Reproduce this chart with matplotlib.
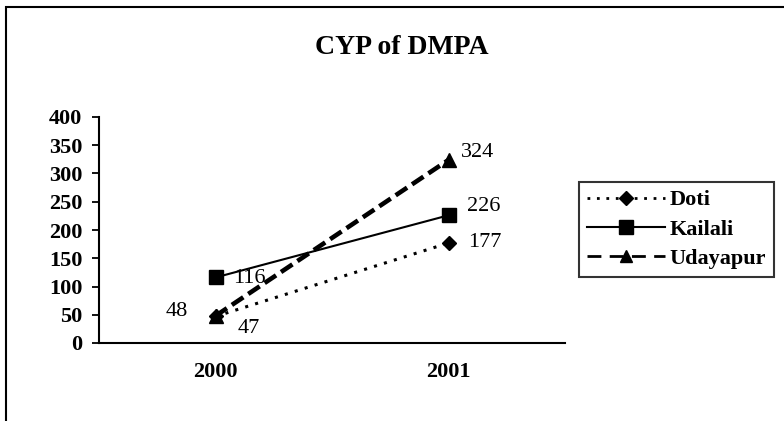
import matplotlib
matplotlib.use('Agg')
import matplotlib.pyplot as plt
from matplotlib.patches import Rectangle

years = ['2000', '2001']
doti = [47, 177]
kailali = [116, 226]
udayapur = [48, 324]

plt.rcParams['font.family'] = ['Liberation Serif', 'DejaVu Serif']

W, H = 784, 421
fig = plt.figure(figsize=(W / 100, H / 100), dpi=100)
ax = fig.add_axes([99 / W, (H - 343) / H, 466 / W, 226 / H])

x = [0, 1]
ax.plot(x, doti, linestyle=(0, (1, 2.4)), lw=2.2, color='k', marker='D', ms=7, label='Doti')
ax.plot(x, kailali, linestyle='-', lw=1.5, color='k', marker='s', ms=10, label='Kailali')
ax.plot(x, udayapur, linestyle=(0, (3, 1.3)), lw=3.3, color='k', marker='^', ms=9.5, label='Udayapur')

ax.set_xlim(-0.5, 1.5)
ax.set_ylim(0, 400)
ax.set_yticks(range(0, 401, 50))
ax.set_xticks(x)
ax.set_xticklabels(years)
ax.tick_params(axis='y', direction='out', length=5, width=1.3, labelsize=16, pad=7)
ax.tick_params(axis='x', length=0, labelsize=16, pad=14)
for lab in ax.get_xticklabels() + ax.get_yticklabels():
    lab.set_fontweight('bold')
for s in ['top', 'right']:
    ax.spines[s].set_visible(False)
for s in ['left', 'bottom']:
    ax.spines[s].set_linewidth(1.5)

# data labels
lfs = 16
def lab(v, xi, dx, dy, ha='left'):
    ax.annotate(str(v), (x[xi], v), xytext=(dx, dy), textcoords='offset points',
                fontsize=lfs, va='center', ha=ha)

lab(doti[0], 0, 16, -9)
lab(udayapur[0], 0, -20, 3, ha='right')
lab(kailali[0], 0, 13, -1)
lab(doti[1], 1, 14, 0)
lab(kailali[1], 1, 13, 6)
lab(udayapur[1], 1, 9, 5.5)

fig.text(402 / W, 1 - 48 / H, 'CYP of DMPA', ha='center', va='center',
         fontsize=20, fontweight='bold')

leg = fig.legend(loc='upper left', bbox_to_anchor=(579 / W, 1 - 182 / H),
                 bbox_transform=fig.transFigure, prop={'weight': 'bold', 'size': 16},
                 frameon=True, fancybox=False, handlelength=3.5, handletextpad=0.22,
                 borderpad=0.35, labelspacing=0.4, borderaxespad=0, markerscale=0.95)
leg.get_frame().set_edgecolor('k')
leg.get_frame().set_linewidth(1.5)
hl = leg.get_lines()
hl[0].set_linewidth(2.0)
hl[2].set_linewidth(2.0)
hl[2].set_linestyle((0, (5, 3)))

# outer chart frame (cropped at right and bottom)
fig.patches.append(Rectangle((6 / W, -0.1), 1.1, 1 - 7 / H + 0.1, transform=fig.transFigure,
                             fill=False, edgecolor='k', lw=1.5))

fig.savefig('out.png', dpi=100)
